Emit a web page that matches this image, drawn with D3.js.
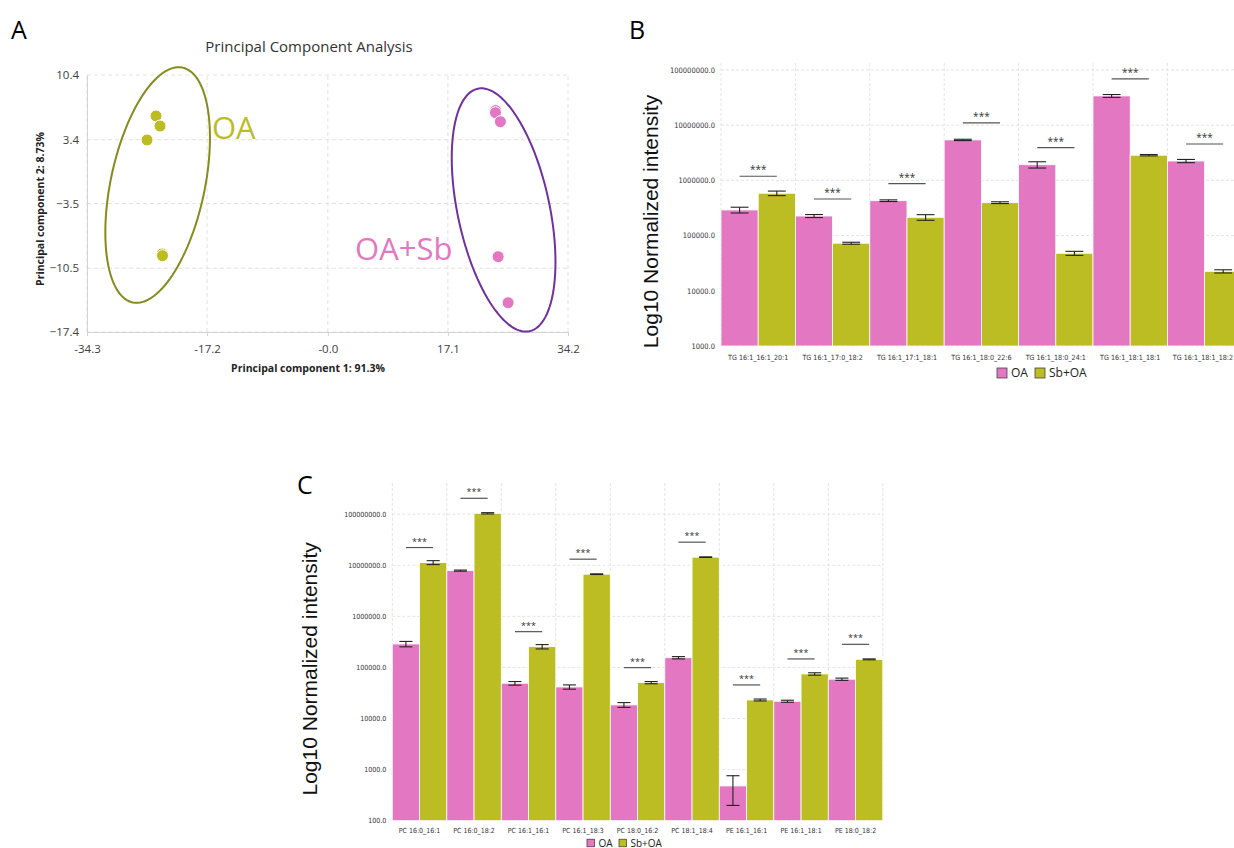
<!DOCTYPE html>
<html>
<head>
<meta charset="utf-8">
<script src="https://cdn.jsdelivr.net/npm/d3@7"></script>
<style>
  body { margin: 0; background: #fff; }
  svg { display: block; font-family: "Open Sans", sans-serif; }
  .small { font-family: "Liberation Sans Narrow", "DejaVu Sans Condensed", sans-serif; }
</style>
</head>
<body>
<svg id="fig" width="1234" height="848"></svg>
<script>
// ---- panel A : PCA scores ----
const pcaTicksX = [-34.3, -17.2, 0, 17.1, 34.2];
const pcaTickLabelsX = ['-34.3', '-17.2', '-0.0', '17.1', '34.2'];
const pcaTicksY = [10.4, 3.4, -3.5, -10.5, -17.4];
const oaPoints = [[-24.47, 5.97], [-23.9, 4.88], [-25.75, 3.37], [-23.6, -8.96], [-23.55, -9.15]];
const sbPoints = [[23.9, 6.55], [23.87, 6.32], [24.57, 5.35], [24.25, -9.25], [25.67, -14.23]];
// centre x, centre y, semi axis 1 (dx, dy), semi axis 2 (dx, dy)
const oaEllipse = [-24.24, -1.5, 3.55, 12.7, 6.55, -1.06];
const sbEllipse = [25.03, -4.2, -3.67, 13.12, 6.41, 1.03];

// ---- panel B : TG species ----
const tgLipids = ['TG 16:1_16:1_20:1', 'TG 16:1_17:0_18:2', 'TG 16:1_17:1_18:1', 'TG 16:1_18:0_22:6',
                  'TG 16:1_18:0_24:1', 'TG 16:1_18:1_18:1', 'TG 16:1_18:1_18:2'];
const tgOA    = [291000, 226000, 428000, 5400000, 1920000, 33800000, 2240000];
const tgOAerr = [35000, 14000, 15000, 150000, 250000, 2000000, 150000];
const tgSb    = [584000, 72700, 214000, 394000, 47800, 2850000, 22500];
const tgSbErr = [55000, 3000, 25000, 15000, 4000, 80000, 1500];
const tgTicks = [1e3, 1e4, 1e5, 1e6, 1e7, 1e8];

// ---- panel C : PC / PE species ----
const pcLipids = ['PC 16:0_16:1', 'PC 16:0_18:2', 'PC 16:1_16:1', 'PC 16:1_18:3', 'PC 18:0_16:2',
                  'PC 18:1_18:4', 'PE 16:1_16:1', 'PE 16:1_18:1', 'PE 18:0_18:2'];
const pcOA    = [288000, 7850000, 49000, 41500, 18500, 155000, 479, 21800, 58800];
const pcOAerr = [35000, 200000, 4000, 4000, 2000, 8000, 280, 1000, 3000];
const pcSb    = [11300000, 104000000, 255000, 6690000, 50400, 14400000, 23100, 74600, 144000];
const pcSbErr = [1000000, 3000000, 25000, 100000, 2500, 200000, 1000, 4000, 3000];
const pcTicks = [1e2, 1e3, 1e4, 1e5, 1e6, 1e7, 1e8];

const groups = ['OA', 'Sb+OA'];
const colors = ['#e377c2', '#bcbd22'];

const svg = d3.select('#fig');
const W = +svg.attr('width');

// panel letters
svg.append('text').attr('x', 11).attr('y', 39).attr('font-size', 25).text('A');
svg.append('text').attr('x', 629).attr('y', 39).attr('font-size', 25).text('B');
svg.append('text').attr('x', 297).attr('y', 494).attr('font-size', 25).text('C');

// ================= PCA =================
const px = d3.scaleLinear().domain([-34.3, 34.2]).range([87, 568]);
const py = d3.scaleLinear().domain([-17.4, 10.4]).range([332, 75]);
const a = svg.append('g');

a.append('g').selectAll('line').data(pcaTicksX).join('line')
  .attr('x1', d => px(d)).attr('x2', d => px(d))
  .attr('y1', py(-17.4)).attr('y2', py(10.4))
  .attr('stroke', '#e2e2e2').attr('stroke-dasharray', '4,3');
a.append('g').selectAll('line').data(pcaTicksY).join('line')
  .attr('y1', d => py(d)).attr('y2', d => py(d))
  .attr('x1', px(-34.3)).attr('x2', px(34.2))
  .attr('stroke', '#e2e2e2').attr('stroke-dasharray', '4,3');

const ax = a.append('g').attr('transform', `translate(0,${py(-17.4)})`)
  .call(d3.axisBottom(px).tickValues(pcaTicksX).tickFormat((d, i) => pcaTickLabelsX[i]).tickSize(4).tickPadding(9));
const ay = a.append('g').attr('transform', `translate(${px(-34.3)},0)`)
  .call(d3.axisLeft(py).tickValues(pcaTicksY).tickFormat(d3.format('.1f')).tickSize(0).tickPadding(8));
[ax, ay].forEach(g => {
  g.select('.domain').attr('stroke', '#d4d4d4');
  g.selectAll('.tick line').attr('stroke', '#d4d4d4');
  g.selectAll('text').attr('font-family', 'Open Sans, sans-serif').attr('font-size', 11.5).attr('fill', '#404040');
});

function ellipsePath(e) {
  const pts = d3.range(0, 121).map(i => {
    const t = i / 120 * 2 * Math.PI;
    return [px(e[0] + e[2] * Math.cos(t) + e[4] * Math.sin(t)),
            py(e[1] + e[3] * Math.cos(t) + e[5] * Math.sin(t))];
  });
  return d3.line()(pts);
}
a.append('path').attr('d', ellipsePath(oaEllipse)).attr('fill', 'none').attr('stroke', '#878a1c').attr('stroke-width', 2);
a.append('path').attr('d', ellipsePath(sbEllipse)).attr('fill', 'none').attr('stroke', '#7030a0').attr('stroke-width', 2);

a.append('g').selectAll('circle').data(oaPoints).join('circle')
  .attr('cx', d => px(d[0])).attr('cy', d => py(d[1])).attr('r', 6)
  .attr('fill', colors[1]).attr('stroke', '#fff').attr('stroke-width', 1);
a.append('g').selectAll('circle').data(sbPoints).join('circle')
  .attr('cx', d => px(d[0])).attr('cy', d => py(d[1])).attr('r', 6)
  .attr('fill', colors[0]).attr('stroke', '#fff').attr('stroke-width', 1);

a.append('text').attr('x', px(-16.5)).attr('y', py(3.48)).attr('font-size', 31).attr('fill', '#bcbd22').text('OA');
a.append('text').attr('x', px(3.87)).attr('y', py(-9.6)).attr('font-size', 31).attr('fill', '#e377c2').text('OA+Sb');

a.append('text').attr('x', 309).attr('y', 52).attr('text-anchor', 'middle')
  .attr('font-size', 15).attr('fill', '#333').text('Principal Component Analysis');
a.append('text').attr('x', 308).attr('y', 372).attr('text-anchor', 'middle')
  .attr('font-size', 10.5).attr('font-weight', 'bold').attr('fill', '#222').text('Principal component 1: 91.3%');
a.append('text').attr('transform', 'translate(44,209) rotate(-90)').attr('text-anchor', 'middle')
  .attr('font-size', 10.5).attr('font-weight', 'bold').attr('fill', '#222').text('Principal component 2: 8.73%');

// ================= bar panels =================
function barPanel(p) {
  const g = svg.append('g');
  const rows = p.labels.map((l, i) => ({ label: l, vals: [p.oa[i], p.sb[i]], errs: [p.oaErr[i], p.sbErr[i]] }));

  const x0 = d3.scaleBand().domain(p.labels).range([p.left, p.left + p.band * p.labels.length]);
  const x1 = d3.scaleBand().domain(groups).range([0, x0.bandwidth()]);
  const y = d3.scaleLog().domain(p.yDomain).range([p.bottom, p.top]);
  const right = x0.range()[1];

  // grid
  g.append('g').selectAll('line').data(p.ticks).join('line')
    .attr('x1', p.left).attr('x2', right).attr('y1', d => y(d)).attr('y2', d => y(d))
    .attr('stroke', '#e4e4e4').attr('stroke-dasharray', '3,2');
  g.append('g').selectAll('line').data(d3.range(p.labels.length + 1)).join('line')
    .attr('x1', i => p.left + i * x0.step()).attr('x2', i => p.left + i * x0.step())
    .attr('y1', p.top).attr('y2', p.bottom)
    .attr('stroke', '#e4e4e4').attr('stroke-dasharray', '3,2');

  // axes
  const yAxis = g.append('g').attr('transform', `translate(${p.left},0)`)
    .call(d3.axisLeft(y).tickValues(p.ticks).tickFormat(d => d.toFixed(1)).tickSize(0).tickPadding(6));
  const xAxis = g.append('g').attr('transform', `translate(0,${p.bottom})`)
    .call(d3.axisBottom(x0).tickSize(0).tickPadding(p.xPad));
  yAxis.select('.domain').remove();
  xAxis.select('.domain').remove();
  yAxis.selectAll('text').attr('class', 'small').attr('font-size', p.tickSize).attr('fill', '#333');
  xAxis.selectAll('text').attr('class', 'small').attr('font-size', p.xTickSize).attr('fill', '#333')
    .each(function () {
      // the last TG label sits right at the page edge; keep it inside
      const b = this.getBBox(), t = this.parentNode.transform.baseVal.consolidate().matrix.e;
      const over = t + b.x + b.width - (W - 1);
      if (over > 0) d3.select(this).attr('x', -over);
    });

  // bars
  const grp = g.append('g').selectAll('g').data(rows).join('g')
    .attr('transform', d => `translate(${x0(d.label)},0)`);
  grp.selectAll('rect').data(d => d.vals.map((v, k) => ({ key: groups[k], v }))).join('rect')
    .attr('x', d => x1(d.key)).attr('width', x1.bandwidth())
    .attr('y', d => y(d.v)).attr('height', d => p.bottom - y(d.v))
    .attr('fill', d => colors[groups.indexOf(d.key)])
    .attr('stroke', '#fff').attr('stroke-width', 0.8);

  // error bars
  const eb = grp.selectAll('g.eb').data(d => d.vals.map((v, k) => ({ key: groups[k], v, e: d.errs[k] }))).join('g')
    .attr('class', 'eb')
    .attr('transform', d => `translate(${x1(d.key) + x1.bandwidth() / 2},0)`)
    .attr('stroke', '#222').attr('stroke-width', 1.1);
  const cap = x1.bandwidth() * 0.24;
  eb.append('line').attr('y1', d => y(d.v + d.e)).attr('y2', d => y(d.v - d.e));
  eb.append('line').attr('x1', -cap).attr('x2', cap).attr('y1', d => y(d.v + d.e)).attr('y2', d => y(d.v + d.e));
  eb.append('line').attr('x1', -cap).attr('x2', cap).attr('y1', d => y(d.v - d.e)).attr('y2', d => y(d.v - d.e));

  // significance
  const half = x1.bandwidth() / 2;
  grp.append('line')
    .attr('x1', half).attr('x2', x0.bandwidth() - half)
    .attr('y1', d => y(d3.max(d.vals)) - p.sigGap).attr('y2', d => y(d3.max(d.vals)) - p.sigGap)
    .attr('stroke', '#555').attr('stroke-width', 1.2);
  grp.append('text')
    .attr('x', x0.bandwidth() / 2).attr('y', d => y(d3.max(d.vals)) - p.sigGap - 3)
    .attr('text-anchor', 'middle').attr('font-size', p.starSize).attr('fill', '#333')
    .text('***');

  // y title
  g.append('text').attr('transform', `translate(${p.titleX},${(p.top + p.bottom) / 2 + 17}) rotate(-90)`)
    .attr('text-anchor', 'middle').attr('font-family', 'Liberation Sans, Arial, sans-serif')
    .attr('font-size', 21).attr('fill', '#111').text('Log10 Normalized intensity');

  // legend
  const lg = g.append('g').attr('transform', `translate(${p.legendX},${p.legendY})`);
  groups.forEach((k, i) => {
    const off = i === 0 ? 0 : p.legendStep;
    lg.append('rect').attr('x', off).attr('y', -p.box / 2).attr('width', p.box).attr('height', p.box)
      .attr('fill', colors[i]).attr('stroke', '#444').attr('stroke-width', 0.8);
    lg.append('text').attr('x', off + p.box + 4).attr('y', 0).attr('dy', '0.35em')
      .attr('font-size', p.legendFont).attr('fill', '#222').text(k);
  });
}

barPanel({
  labels: tgLipids, oa: tgOA, oaErr: tgOAerr, sb: tgSb, sbErr: tgSbErr, ticks: tgTicks,
  left: 721, band: 74.4, top: 63, bottom: 346, yDomain: [1e3, Math.pow(10, 8.125)],
  tickSize: 7.5, xTickSize: 7.1, xPad: 9, sigGap: 17, starSize: 10, titleX: 658,
  legendX: 997, legendY: 373, legendStep: 38, box: 10, legendFont: 12
});
barPanel({
  labels: pcLipids, oa: pcOA, oaErr: pcOAerr, sb: pcSb, sbErr: pcSbErr, ticks: pcTicks,
  left: 392.3, band: 54.5, top: 483, bottom: 820.7, yDomain: [1e2, Math.pow(10, 8.61)],
  tickSize: 7, xTickSize: 7, xPad: 7.5, sigGap: 15, starSize: 9, titleX: 317,
  legendX: 587, legendY: 843, legendStep: 32, box: 7.5, legendFont: 10
});
</script>
</body>
</html>
